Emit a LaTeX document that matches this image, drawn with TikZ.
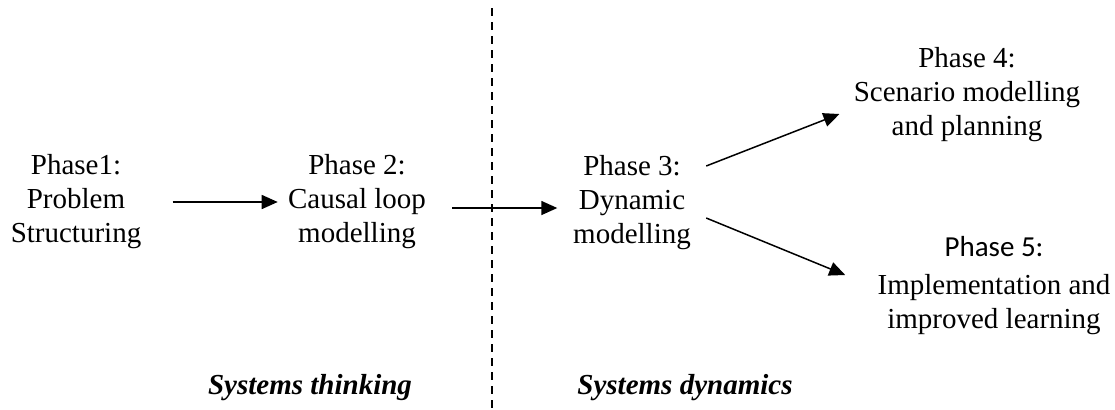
\documentclass[tikz,border=0pt]{standalone}
\usepackage{fontspec}
\setmainfont{Liberation Serif}
\newfontfamily\calibrifont{Carlito}
\usetikzlibrary{arrows.meta}

\begin{document}
\begin{tikzpicture}[
    x=0.5pt, y=-0.5pt,
    % Estilo para los bloques de texto de cada fase
    phase/.style={align=center, inner sep=0pt, font=\fontsize{14.5}{17}\selectfont},
    % Estilo para las flechas entre fases
    flow/.style={line width=0.75pt, -{Triangle[length=8pt, width=7pt]}},
    % Estilo para las etiquetas de cada enfoque
    area/.style={font=\fontsize{14.5}{17}\selectfont\bfseries\itshape},
    % Estilo para la linea divisoria
    divider/.style={line width=1pt, dash pattern=on 4pt off 3pt}
]
    \useasboundingbox (0,0) rectangle (1115,409);

    % ==========================================
    % FASES
    % ==========================================
    \node[phase] (p1) at (76,202)  {Phase1:\\Problem\\Structuring};
    \node[phase] (p2) at (357,202) {Phase 2:\\Causal loop\\modelling};
    \node[phase] (p3) at (632,203) {Phase 3:\\Dynamic\\modelling};
    \node[phase] (p4) at (967,95)  {Phase 4:\\Scenario modelling\\and planning};
    \node[phase] (p5) at (994,286) {{\calibrifont Phase 5:}\\[2pt]Implementation and\\improved learning};

    % Flechas
    \draw[flow] ([xshift=15.5pt]p1.east) -- ([xshift=-5pt]p2.west);
    \draw[flow] ([xshift=13pt, yshift=-3pt]p2.east) -- ([xshift=-7.75pt, yshift=-2.5pt]p3.west);
    \draw[flow] ([xshift=7.5pt, yshift=18.5pt]p3.east) -- ([xshift=-7pt, yshift=-9.5pt]p4.west);
    \draw[flow] ([xshift=7.5pt, yshift=-7.5pt]p3.east) -- ([xshift=-16pt, yshift=5.5pt]p5.west);

    % ==========================================
    % DIVISION: SYSTEMS THINKING / DYNAMICS
    % ==========================================
    \draw[divider] (492,8) -- (492,409);
    \node[area] (thinking) at (310,388) {Systems thinking};
    \node[area] (dynamics) at (685,388) {Systems dynamics};

\end{tikzpicture}
\end{document}
